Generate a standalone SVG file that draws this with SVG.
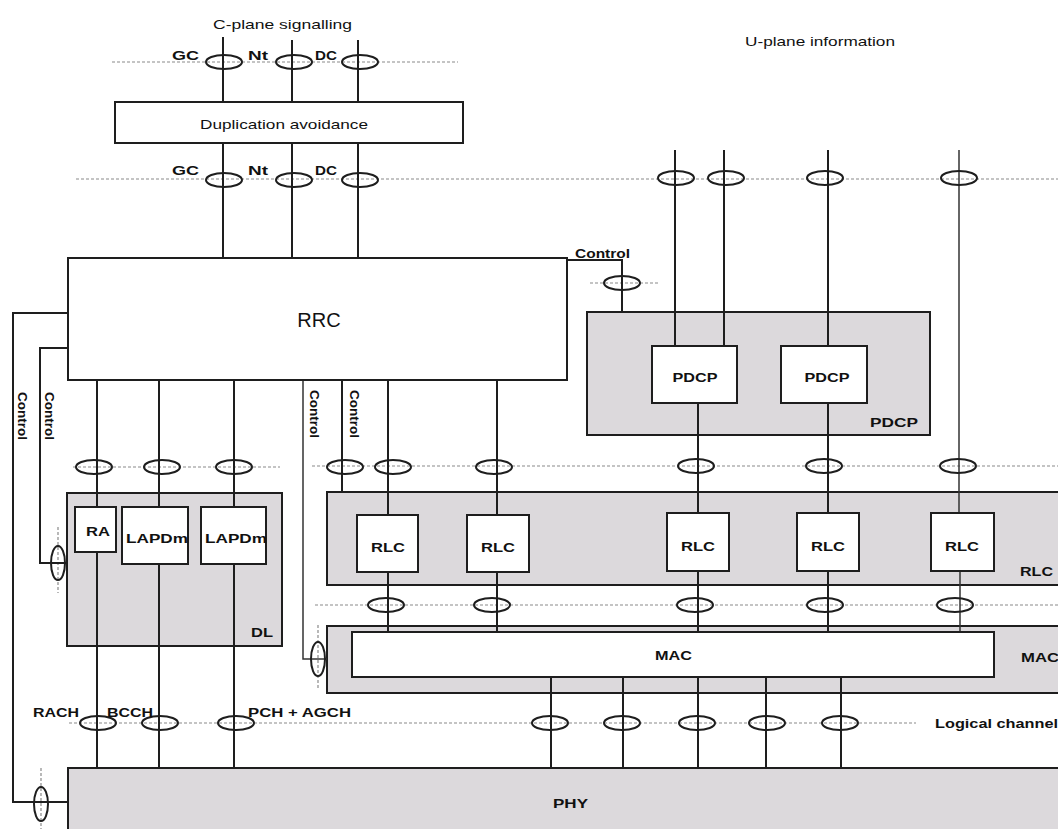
<svg xmlns="http://www.w3.org/2000/svg" width="1058" height="829" viewBox="0 0 1058 829">
<defs>
<style>
.grp{fill:#dcd9dc;stroke:#1e1e1e;stroke-width:2}
.box{fill:#ffffff;stroke:#1e1e1e;stroke-width:2}
.ln{fill:none;stroke:#1e1e1e;stroke-width:2}
.thin{fill:none;stroke:#333;stroke-width:1.5}
.dot{fill:none;stroke:#8a8a8a;stroke-width:1.2;stroke-dasharray:3 2}
.el{fill:none;stroke:#1e1e1e;stroke-width:2}
text{font-family:"Liberation Sans",Arial,sans-serif;fill:#111}
.b{font-weight:bold;font-size:12px}
.n{font-size:13px}
</style>
</defs>
<rect width="1058" height="829" fill="#ffffff"/>

<!-- layer group boxes -->
<g id="phy"><rect class="grp" x="68" y="768" width="1010" height="80"/><text class="b" x="553" y="808" textLength="35" lengthAdjust="spacingAndGlyphs">PHY</text></g>
<g id="dl"><rect class="grp" x="67" y="493" width="215" height="153"/><text class="b" x="251" y="637" textLength="22" lengthAdjust="spacingAndGlyphs">DL</text></g>
<g id="rlc-layer"><rect class="grp" x="327" y="492" width="750" height="93"/><text class="b" x="1020" y="576" textLength="33" lengthAdjust="spacingAndGlyphs">RLC</text></g>
<g id="mac-layer"><rect class="grp" x="327" y="626" width="750" height="67"/><text class="b" x="1021" y="662" textLength="38" lengthAdjust="spacingAndGlyphs">MAC</text></g>
<g id="pdcp-layer"><rect class="grp" x="587" y="312" width="343" height="123"/><text class="b" x="870" y="427" textLength="48" lengthAdjust="spacingAndGlyphs">PDCP</text></g>

<!-- connectors -->
<g id="connectors">
<!-- dotted SAP lines -->
<line class="dot" x1="112" y1="62" x2="458" y2="62"/>
<line class="dot" x1="76" y1="179" x2="1058" y2="179"/>
<line class="dot" x1="590" y1="283" x2="658" y2="283"/>
<line class="dot" x1="73" y1="467" x2="280" y2="467"/>
<line class="dot" x1="312" y1="466" x2="1058" y2="466"/>
<line class="dot" x1="315" y1="605" x2="1058" y2="605"/>
<line class="dot" x1="69" y1="723" x2="916" y2="723"/>
<line class="dot" x1="58" y1="527" x2="58" y2="593"/>
<line class="dot" x1="318" y1="625" x2="318" y2="690"/>
<line class="dot" x1="41" y1="768" x2="41" y2="829"/>

<!-- C-plane verticals -->
<line class="ln" x1="223" y1="37" x2="223" y2="258"/>
<line class="ln" x1="292" y1="40" x2="292" y2="258"/>
<line class="ln" x1="358" y1="40" x2="358" y2="258"/>
<!-- U-plane verticals -->
<line class="ln" x1="675" y1="150" x2="675" y2="346"/>
<line class="ln" x1="724" y1="150" x2="724" y2="346"/>
<line class="ln" x1="828" y1="150" x2="828" y2="346"/>
<line class="thin" x1="959" y1="150" x2="959" y2="513"/>
<!-- PDCP to RLC -->
<line class="ln" x1="698" y1="403" x2="698" y2="513"/>
<line class="ln" x1="828" y1="403" x2="828" y2="513"/>
<!-- RRC control to PDCP -->
<polyline class="ln" points="567,260 622,260 622,312"/>
<!-- left control lines -->
<polyline class="ln" points="68,313 13,313 13,802 68,802"/>
<polyline class="ln" points="68,348 40,348 40,563 67,563"/>
<polyline class="thin" points="303,380 303,659 327,659"/>
<line class="ln" x1="342" y1="380" x2="342" y2="493"/>
<!-- RRC to DL / PHY -->
<line class="ln" x1="97" y1="380" x2="97" y2="768"/>
<line class="ln" x1="159" y1="380" x2="159" y2="768"/>
<line class="ln" x1="234" y1="380" x2="234" y2="768"/>
<!-- RRC to RLC -->
<line class="ln" x1="388" y1="380" x2="388" y2="632"/>
<line class="ln" x1="497" y1="380" x2="497" y2="632"/>
<!-- RLC to MAC -->
<line class="ln" x1="698" y1="571" x2="698" y2="632"/>
<line class="ln" x1="828" y1="571" x2="828" y2="632"/>
<line class="thin" x1="960" y1="571" x2="960" y2="632"/>
<!-- MAC to PHY -->
<line class="ln" x1="551" y1="677" x2="551" y2="768"/>
<line class="ln" x1="623" y1="677" x2="623" y2="768"/>
<line class="ln" x1="698" y1="677" x2="698" y2="768"/>
<line class="ln" x1="766" y1="677" x2="766" y2="768"/>
<line class="ln" x1="841" y1="677" x2="841" y2="768"/>

<!-- SAP ellipses -->
<ellipse class="el" cx="224" cy="62" rx="18" ry="7"/>
<ellipse class="el" cx="294" cy="62" rx="18" ry="7"/>
<ellipse class="el" cx="360" cy="62" rx="18" ry="7"/>
<ellipse class="el" cx="224" cy="180" rx="18" ry="7"/>
<ellipse class="el" cx="294" cy="180" rx="18" ry="7"/>
<ellipse class="el" cx="360" cy="180" rx="18" ry="7"/>
<ellipse class="el" cx="676" cy="178" rx="18" ry="7"/>
<ellipse class="el" cx="726" cy="178" rx="18" ry="7"/>
<ellipse class="el" cx="825" cy="178" rx="18" ry="7"/>
<ellipse class="el" cx="959" cy="178" rx="18" ry="7"/>
<ellipse class="el" cx="622" cy="283" rx="18" ry="7"/>
<ellipse class="el" cx="94" cy="467" rx="18" ry="7"/>
<ellipse class="el" cx="162" cy="467" rx="18" ry="7"/>
<ellipse class="el" cx="234" cy="467" rx="18" ry="7"/>
<ellipse class="el" cx="345" cy="467" rx="18" ry="7"/>
<ellipse class="el" cx="393" cy="467" rx="18" ry="7"/>
<ellipse class="el" cx="494" cy="467" rx="18" ry="7"/>
<ellipse class="el" cx="696" cy="466" rx="18" ry="7"/>
<ellipse class="el" cx="824" cy="466" rx="18" ry="7"/>
<ellipse class="el" cx="958" cy="466" rx="18" ry="7"/>
<ellipse class="el" cx="386" cy="605" rx="18" ry="7"/>
<ellipse class="el" cx="492" cy="605" rx="18" ry="7"/>
<ellipse class="el" cx="695" cy="605" rx="18" ry="7"/>
<ellipse class="el" cx="825" cy="605" rx="18" ry="7"/>
<ellipse class="el" cx="955" cy="605" rx="18" ry="7"/>
<ellipse class="el" cx="98" cy="723" rx="18" ry="7"/>
<ellipse class="el" cx="160" cy="723" rx="18" ry="7"/>
<ellipse class="el" cx="236" cy="723" rx="18" ry="7"/>
<ellipse class="el" cx="550" cy="723" rx="18" ry="7"/>
<ellipse class="el" cx="622" cy="723" rx="18" ry="7"/>
<ellipse class="el" cx="697" cy="723" rx="18" ry="7"/>
<ellipse class="el" cx="767" cy="723" rx="18" ry="7"/>
<ellipse class="el" cx="840" cy="723" rx="18" ry="7"/>
<ellipse class="el" cx="58" cy="563" rx="7" ry="17"/>
<ellipse class="el" cx="318" cy="659" rx="7" ry="17"/>
<ellipse class="el" cx="41" cy="804" rx="7" ry="17"/>

<!-- SAP / connector labels -->
<text class="b" x="172" y="60" textLength="27" lengthAdjust="spacingAndGlyphs">GC</text>
<text class="b" x="248" y="60" textLength="20" lengthAdjust="spacingAndGlyphs">Nt</text>
<text class="b" x="315" y="60" textLength="22" lengthAdjust="spacingAndGlyphs">DC</text>
<text class="b" x="172" y="175" textLength="27" lengthAdjust="spacingAndGlyphs">GC</text>
<text class="b" x="248" y="175" textLength="20" lengthAdjust="spacingAndGlyphs">Nt</text>
<text class="b" x="315" y="175" textLength="22" lengthAdjust="spacingAndGlyphs">DC</text>
<text class="b" x="575" y="258" textLength="55" lengthAdjust="spacingAndGlyphs">Control</text>
<text class="b" transform="translate(18,392) rotate(90)" textLength="48" lengthAdjust="spacingAndGlyphs">Control</text>
<text class="b" transform="translate(45,392) rotate(90)" textLength="48" lengthAdjust="spacingAndGlyphs">Control</text>
<text class="b" transform="translate(310,390) rotate(90)" textLength="48" lengthAdjust="spacingAndGlyphs">Control</text>
<text class="b" transform="translate(350,390) rotate(90)" textLength="48" lengthAdjust="spacingAndGlyphs">Control</text>
<text class="b" x="33" y="717" textLength="46" lengthAdjust="spacingAndGlyphs">RACH</text>
<text class="b" x="107" y="717" textLength="46" lengthAdjust="spacingAndGlyphs">BCCH</text>
<text class="b" x="248" y="717" textLength="103" lengthAdjust="spacingAndGlyphs">PCH + AGCH</text>
<text class="b" x="935" y="728" textLength="132" lengthAdjust="spacingAndGlyphs">Logical channels</text>
</g>

<!-- titles -->
<g id="c-plane-title"><text class="n" x="213" y="29" textLength="139" lengthAdjust="spacingAndGlyphs">C-plane signalling</text></g>
<g id="u-plane-title"><text class="n" x="745" y="46" textLength="150" lengthAdjust="spacingAndGlyphs">U-plane information</text></g>

<!-- inner nodes -->
<g id="duplication-avoidance"><rect class="box" x="115" y="102" width="348" height="41"/><text class="n" x="200" y="129" textLength="168" lengthAdjust="spacingAndGlyphs">Duplication avoidance</text></g>
<g id="rrc"><rect class="box" x="68" y="258" width="499" height="122"/><text x="319" y="327" text-anchor="middle" font-size="20">RRC</text></g>
<g id="pdcp1"><rect class="box" x="652" y="346" width="85" height="57"/><text class="b" x="695" y="382" text-anchor="middle" textLength="45" lengthAdjust="spacingAndGlyphs">PDCP</text></g>
<g id="pdcp2"><rect class="box" x="781" y="346" width="86" height="57"/><text class="b" x="827" y="382" text-anchor="middle" textLength="45" lengthAdjust="spacingAndGlyphs">PDCP</text></g>
<g id="ra"><rect class="box" x="75" y="507" width="41" height="45"/><text class="b" x="98" y="536" text-anchor="middle" textLength="24" lengthAdjust="spacingAndGlyphs">RA</text></g>
<g id="lapdm1"><rect class="box" x="122" y="507" width="66" height="57"/><text class="b" x="126" y="543" textLength="62" lengthAdjust="spacingAndGlyphs">LAPDm</text></g>
<g id="lapdm2"><rect class="box" x="201" y="507" width="65" height="57"/><text class="b" x="205" y="543" textLength="62" lengthAdjust="spacingAndGlyphs">LAPDm</text></g>
<g id="rlc1"><rect class="box" x="357" y="515" width="61" height="57"/><text class="b" x="388" y="552" text-anchor="middle" textLength="34" lengthAdjust="spacingAndGlyphs">RLC</text></g>
<g id="rlc2"><rect class="box" x="467" y="515" width="62" height="57"/><text class="b" x="498" y="552" text-anchor="middle" textLength="34" lengthAdjust="spacingAndGlyphs">RLC</text></g>
<g id="rlc3"><rect class="box" x="667" y="513" width="62" height="58"/><text class="b" x="698" y="551" text-anchor="middle" textLength="34" lengthAdjust="spacingAndGlyphs">RLC</text></g>
<g id="rlc4"><rect class="box" x="797" y="513" width="62" height="58"/><text class="b" x="828" y="551" text-anchor="middle" textLength="34" lengthAdjust="spacingAndGlyphs">RLC</text></g>
<g id="rlc5"><rect class="box" x="931" y="513" width="63" height="58"/><text class="b" x="962" y="551" text-anchor="middle" textLength="34" lengthAdjust="spacingAndGlyphs">RLC</text></g>
<g id="mac"><rect class="box" x="352" y="632" width="642" height="45"/><text class="b" x="655" y="660" textLength="37" lengthAdjust="spacingAndGlyphs">MAC</text></g>
</svg>
